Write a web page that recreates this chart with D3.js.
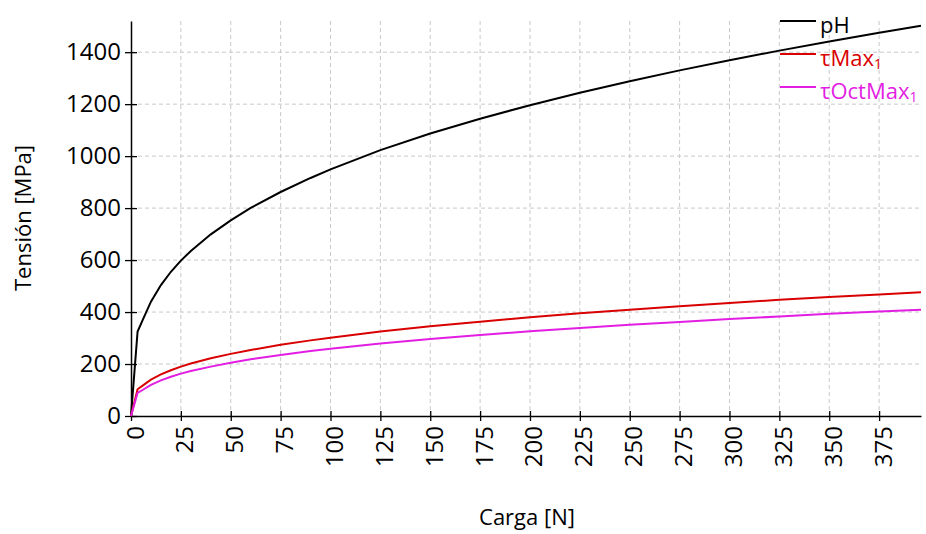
<!DOCTYPE html>
<html>
<head>
<meta charset="utf-8">
<script src="https://cdn.jsdelivr.net/npm/d3@7"></script>
<style>
    body { margin: 0; background: #fff; }
    svg { font-family: "Open Sans", "Noto Sans", sans-serif; }
</style>
</head>
<body>
<svg id="chart" width="926" height="534"></svg>
<script>
// данные
const carga = [0, 3.3, 6, 10, 15, 20, 25, 30, 40, 50, 60, 75, 90, 100, 125, 150, 175, 200, 225, 250, 275, 300, 325, 350, 375, 396];
const pH = [0, 325, 372, 440, 504, 555, 598, 635, 699, 753, 801, 862, 916, 949, 1023, 1087, 1144, 1196, 1244, 1288, 1330, 1369, 1406, 1441, 1475, 1502];
const tauMax = [0, 103, 118, 140, 160, 176, 190, 202, 222, 239, 254, 274, 291, 301, 325, 345, 363, 380, 395, 409, 422, 435, 447, 458, 468, 476];
const tauOctMax = [0, 89, 101, 120, 137, 151, 163, 173, 190, 205, 218, 235, 250, 259, 279, 296, 312, 326, 339, 351, 362, 373, 383, 393, 402, 409];

const ticksX = [0, 25, 50, 75, 100, 125, 150, 175, 200, 225, 250, 275, 300, 325, 350, 375];
const ticksY = [0, 200, 400, 600, 800, 1000, 1200, 1400];

const series = [
    {name: "pH", sub: "", values: pH, color: "#000000"},
    {name: "τMax", sub: "1", values: tauMax, color: "#d80000"},
    {name: "τOctMax", sub: "1", values: tauOctMax, color: "#e21ee2"}
];

const svg = d3.select("#chart");

const area = {left: 131, right: 921, top: 21, bottom: 416};

const scaleX = d3.scaleLinear().domain([0, 396]).range([area.left, area.right]);
const scaleY = d3.scaleLinear().domain([0, 1520]).range([area.bottom, area.top]);

// сетка
svg.append("g")
    .selectAll("line")
    .data(ticksX.slice(1))
    .join("line")
    .attr("x1", d => scaleX(d)).attr("x2", d => scaleX(d))
    .attr("y1", area.top).attr("y2", area.bottom)
    .attr("stroke", "#c8c8c8")
    .attr("stroke-dasharray", "4,3");

svg.append("g")
    .selectAll("line")
    .data(ticksY.slice(1))
    .join("line")
    .attr("x1", area.left).attr("x2", area.right)
    .attr("y1", d => scaleY(d)).attr("y2", d => scaleY(d))
    .attr("stroke", "#c8c8c8")
    .attr("stroke-dasharray", "4,3");

// оси
const axisX = svg.append("g")
    .attr("transform", `translate(0, ${area.bottom})`)
    .call(d3.axisBottom(scaleX).tickValues(ticksX).tickSizeInner(5).tickSizeOuter(0).tickFormat(d3.format("d")))
    .attr("font-family", null)
    .attr("font-size", 24);
axisX.select(".domain").attr("stroke", "#000").attr("stroke-width", 1.5);
axisX.selectAll(".tick line").attr("y1", -5).attr("stroke-width", 1.3);
axisX.selectAll(".tick text")
    .attr("fill", "#000")
    .attr("y", 0).attr("x", 0)
    .attr("dy", "0.5em")
    .style("text-anchor", "end")
    .attr("transform", "translate(0, 10) rotate(-90)");

const axisY = svg.append("g")
    .attr("transform", `translate(${area.left}, 0)`)
    .call(d3.axisLeft(scaleY).tickValues(ticksY).tickSizeInner(6).tickSizeOuter(0).tickFormat(d3.format("d")))
    .attr("font-family", null)
    .attr("font-size", 24);
axisY.select(".domain").attr("stroke", "#000").attr("stroke-width", 1.5);
axisY.selectAll(".tick line").attr("x1", 6).attr("stroke-width", 1.3);
axisY.selectAll(".tick text")
    .attr("fill", "#000")
    .attr("x", -10);

// линии
series.forEach(s => {
    const line = d3.line()
        .x((d, i) => scaleX(carga[i]))
        .y(d => scaleY(d));
    svg.append("path")
        .datum(s.values)
        .attr("fill", "none")
        .attr("stroke", s.color)
        .attr("stroke-width", 2)
        .attr("d", line);
});

// подписи осей
svg.append("text")
    .attr("transform", "translate(31, 218) rotate(-90)")
    .attr("text-anchor", "middle")
    .attr("font-size", 22)
    .text("Tensión [MPa]");

svg.append("text")
    .attr("x", 527)
    .attr("y", 525)
    .attr("text-anchor", "middle")
    .attr("font-size", 22)
    .text("Carga [N]");

// легенда
const legend = svg.append("g");
series.forEach((s, i) => {
    const y = 21 + i * 33;
    legend.append("line")
        .attr("x1", 780).attr("x2", 816)
        .attr("y1", y).attr("y2", y)
        .attr("stroke", s.color)
        .attr("stroke-width", 2);
    const t = legend.append("text")
        .attr("x", 820)
        .attr("y", y + 12)
        .attr("font-size", 22)
        .attr("fill", s.color)
        .text(s.name);
    if (s.sub) {
        t.append("tspan")
            .attr("font-size", 14)
            .attr("dy", 3)
            .text(s.sub);
    }
});
</script>
</body>
</html>
